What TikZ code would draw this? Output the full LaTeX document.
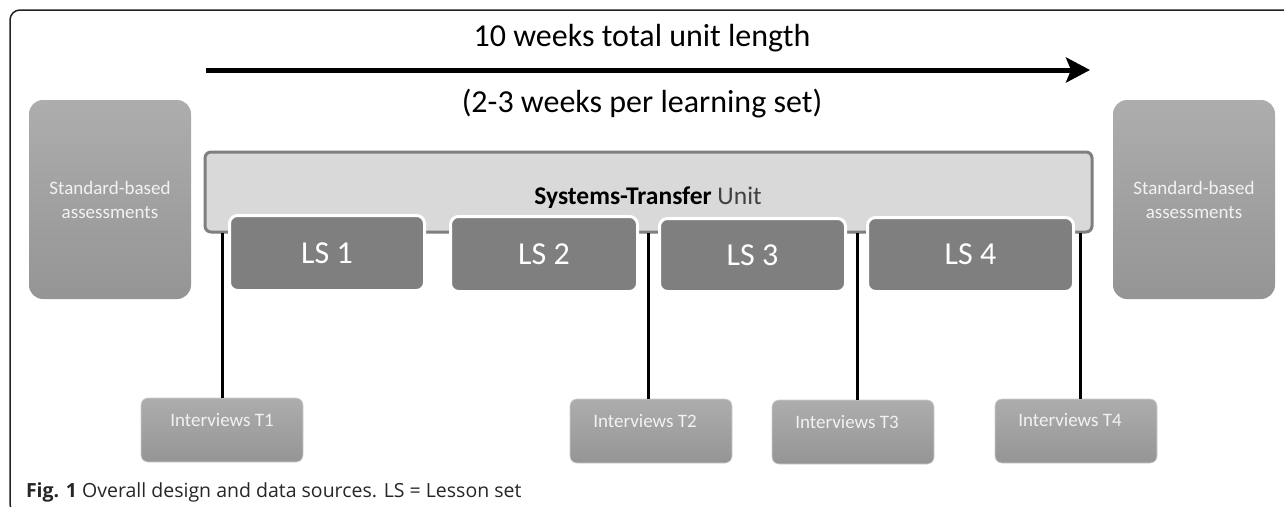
\documentclass[tikz,border=0pt]{standalone}
\usepackage{fontspec}
\setmainfont{Carlito}
\newfontfamily\capfont{Open Sans}
\usetikzlibrary{arrows.meta}

\definecolor{unitfill}{HTML}{D9D9D9}
\definecolor{unitedge}{HTML}{7F7F7F}
\definecolor{lsfill}{HTML}{7F7F7F}
\definecolor{gtop}{HTML}{ADADAD}
\definecolor{gbot}{HTML}{959595}
\definecolor{paletext}{HTML}{F2F2F2}
\definecolor{frameline}{HTML}{222222}
\definecolor{unitword}{HTML}{404040}

\begin{document}
\begin{tikzpicture}[x=1pt,y=-1pt,
  every node/.style={inner sep=0pt, outer sep=0pt},
  assessbox/.style={rounded corners=14pt, top color=gtop, bottom color=gbot,
    text=paletext, align=center, font=\fontsize{19}{24}\selectfont},
  unitbox/.style={draw=unitedge, line width=3pt, fill=unitfill, rounded corners=6pt},
  lsbox/.style={draw=white, line width=3pt, fill=lsfill, rounded corners=8pt,
    text=white, font=\fontsize{32}{36}\selectfont},
  interviewbox/.style={rounded corners=7pt, top color=gtop, bottom color=gbot,
    draw=gtop!60!white, line width=0.6pt,
    minimum width=162pt, minimum height=64pt},
  interviewtext/.style={text=paletext, font=\fontsize{19}{22}\selectfont},
  timeline/.style={line width=5pt, -{Stealth[length=24pt,width=25pt,inset=5pt]}},
  linkline/.style={line width=3pt, black},
  toptext/.style={font=\fontsize{32}{38}\selectfont}]

\useasboundingbox (0,0) rectangle (1284,506);
\clip (0,0) rectangle (1284,506);
\fill[white] (0,0) rectangle (1284,506);

% outer frame, open to the right and bottom
\draw[frameline, line width=1.5pt, rounded corners=10pt] (10,10) rectangle (1320,514);

% time line with its two labels
\coordinate (tstart) at (206,70);
\coordinate (tend) at (1090,70);
\draw[timeline] (tstart) -- (tend);
\node[toptext] (total) at (642,38) {10 weeks total unit length};
\node[toptext] (perset) at (642,104) {(2-3 weeks per learning set)};

% assessments before and after the unit
\node[assessbox, anchor=north west, minimum width=162pt, minimum height=199pt]
  (preassess) at (29,100) {Standard-based\\assessments};
\node[assessbox, anchor=north west, minimum width=162pt, minimum height=199pt]
  (postassess) at (1113,100) {Standard-based\\assessments};

% the unit and its four lesson sets
\node[unitbox, anchor=north west, minimum width=887pt, minimum height=80pt]
  (unit) at (205,152) {};
\node[font=\fontsize{25.5}{30}\selectfont] (unitname) at (648,198)
  {\textbf{Systems-Transfer} \textcolor{unitword}{Unit}};

\node[lsbox, anchor=north west, minimum width=195pt, minimum height=75pt] (ls1) at (229.5,215.5) {LS 1};
\node[lsbox, anchor=north west, minimum width=187pt, minimum height=75pt] (ls2) at (450.5,216.5) {LS 2};
\node[lsbox, anchor=north west, minimum width=186pt, minimum height=73pt] (ls3) at (659.5,218.5) {LS 3};
\node[lsbox, anchor=north west, minimum width=206pt, minimum height=74pt] (ls4) at (867.5,217.5) {LS 4};

% interview points
\node[interviewbox, anchor=north] (t1) at (222,398) {};
\node[interviewbox, anchor=north] (t2) at (651,399) {};
\node[interviewbox, anchor=north] (t3) at (853,400) {};
\node[interviewbox, anchor=north] (t4) at (1076,399) {};
\node[interviewtext] (t1text) at (222,420) {Interviews T1};
\node[interviewtext] (t2text) at (645,421) {Interviews T2};
\node[interviewtext] (t3text) at (847,422) {Interviews T3};
\node[interviewtext] (t4text) at (1070,420) {Interviews T4};

% connections from the unit down to the interviews
\coordinate (c1) at (222,233);
\coordinate (c2) at (648,233);
\coordinate (c3) at (857,233);
\coordinate (c4) at (1080,233);
\draw[linkline] (c1) -- (c1 |- t1.north);
\draw[linkline] (c2) -- (c2 |- t2.north);
\draw[linkline] (c3) -- (c3 |- t3.north);
\draw[linkline] (c4) -- (c4 |- t4.north);

% caption
\node[anchor=base west, font=\capfont\fontsize{19.5}{23}\selectfont, text=black!85] (caption) at (26,497)
  {\textbf{Fig. 1} Overall design and data sources. LS = Lesson set};
\end{tikzpicture}
\end{document}
